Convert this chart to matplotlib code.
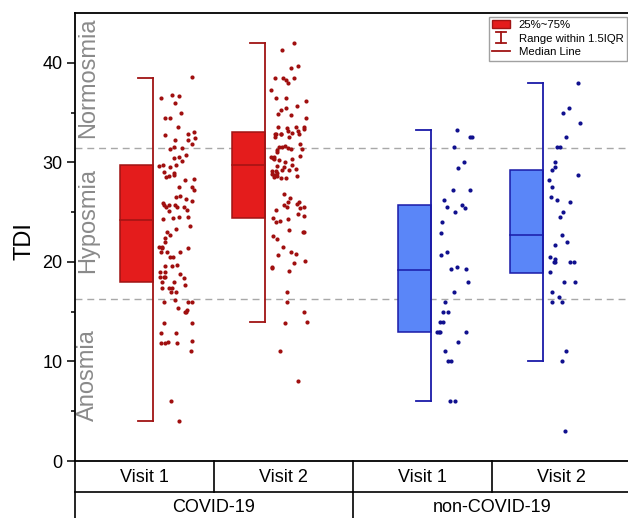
import numpy as np
import matplotlib
matplotlib.use('Agg')
import matplotlib.pyplot as plt
from matplotlib.patches import Patch
from matplotlib.lines import Line2D
from matplotlib.legend_handler import HandlerBase
from matplotlib.transforms import blended_transform_factory

plt.rcParams['font.family'] = ['Liberation Sans', 'DejaVu Sans']

# data
groups = ['COVID-19', 'non-COVID-19']
visits = ['Visit 1', 'Visit 2', 'Visit 1', 'Visit 2']

covid_v1 = [38.6, 36.5, 36.7, 36.8, 36.0, 35.0, 34.5, 34.5, 33.5, 33.0, 32.8, 32.7,
            32.4, 32.2, 32.2, 31.8, 31.5, 31.4, 31.3, 30.7, 30.5, 30.1, 30.4, 29.7,
            29.5, 29.7, 29.6, 29.0, 28.9, 28.3, 28.2, 28.6, 28.7, 28.5, 27.5, 27.2,
            27.5, 26.5, 26.3, 26.6, 26.1, 25.7, 25.5, 25.5, 25.2, 25.7, 25.5, 25.7,
            25.9, 25.1, 24.3, 24.5, 24.5, 24.4, 23.6, 23.3, 23.0, 22.7, 22.4, 22.0,
            21.5, 21.4, 21.5, 21.4, 21.0, 21.0, 21.0, 20.5, 20.5, 19.6, 19.7, 19.6,
            19.0, 19.0, 18.8, 18.5, 18.4, 18.5, 18.5, 17.7, 18.0, 18.0, 17.4, 17.4,
            17.4, 17.0, 17.0, 16.2, 16.0, 16.0, 16.0, 15.4, 15.0, 15.2, 15.0, 13.9,
            13.9, 12.9, 12.9, 12.0, 12.1, 11.9, 11.9, 11.9, 11.0, 6.0, 4.0]
covid_v2 = [42.0, 41.3, 39.7, 39.5, 38.5, 38.3, 38.5, 38.5, 38.0, 37.3, 36.5, 36.5,
            36.2, 35.7, 35.3, 35.5, 34.9, 34.8, 34.5, 33.5, 33.1, 33.1, 32.9, 33.3,
            33.4, 33.5, 33.5, 32.8, 32.8, 32.5, 32.8, 32.8, 32.8, 32.5, 31.8, 31.3,
            31.6, 31.3, 31.4, 31.5, 31.5, 31.2, 31.0, 30.5, 30.6, 30.5, 30.3, 30.4,
            30.3, 30.2, 30.0, 29.2, 29.5, 29.2, 28.9, 29.1, 29.6, 29.7, 29.1, 29.3,
            28.6, 28.8, 28.6, 28.4, 28.5, 28.4, 28.7, 26.8, 26.0, 25.7, 25.5, 25.5,
            25.4, 25.2, 26.4, 25.8, 26.0, 24.8, 24.6, 24.0, 24.4, 24.3, 24.1, 23.0,
            22.6, 22.3, 23.2, 23.0, 21.5, 21.0, 20.8, 20.1, 20.7, 19.9, 19.5, 19.4,
            19.1, 17.0, 16.0, 15.0, 13.9, 14.0, 11.0, 8.0]
noncovid_v1 = [33.2, 32.5, 32.5, 31.5, 30.0, 29.4, 27.2, 27.2, 26.2, 25.7, 25.4, 25.5,
               25.0, 24.0, 22.9, 21.0, 20.7, 19.3, 19.5, 19.3, 18.0, 17.0, 16.0, 15.0,
               15.0, 14.0, 14.0, 13.0, 13.0, 13.0, 13.0, 12.0, 11.0, 10.0, 10.0, 6.0, 6.0]
noncovid_v2 = [38.0, 35.5, 35.0, 34.0, 32.5, 31.5, 31.5, 30.0, 29.5, 29.2, 28.7, 28.2,
               27.5, 26.5, 26.0, 26.2, 25.0, 24.5, 22.7, 22.0, 21.7, 20.5, 20.3, 20.0,
               20.0, 20.0, 20.0, 19.0, 18.0, 18.0, 17.0, 16.5, 16.0, 16.0, 11.0, 10.0, 3.0]

# box statistics as drawn
q1 = [18.0, 24.4, 13.0, 18.9]
median = [24.2, 29.75, 19.2, 22.7]
q3 = [29.75, 33.0, 25.7, 29.25]
whisk_lo = [4.0, 14.0, 6.0, 10.0]
whisk_hi = [38.5, 42.0, 33.2, 38.0]

thresholds = [16.3, 31.4]
zones = ['Normosmia', 'Hyposmia', 'Anosmia']
zone_y = [38.5, 24.2, 8.6]

# styling
face = ['#e41c1c', '#e41c1c', '#5a86f8', '#5a86f8']
edge = ['#a01414', '#a01414', '#1a1aa8', '#1a1aa8']
dot = ['#a00f0f', '#a00f0f', '#10108e', '#10108e']
pos = [0.561, 1.367, 2.561, 3.367]
box_w = 0.237
cap_w = 0.108

fig = plt.figure(figsize=(6.28, 5.18), dpi=100)
ax = fig.add_axes([75 / 628, 57 / 518, 556 / 628, 448 / 518])

series = [covid_v1, covid_v2, noncovid_v1, noncovid_v2]
for i, vals in enumerate(series):
    p = pos[i]
    ax.bar(p - box_w, q3[i] - q1[i], bottom=q1[i], width=box_w, align='edge',
           facecolor=face[i], edgecolor=edge[i], linewidth=1.1, zorder=2)
    ax.plot([p - box_w, p], [median[i], median[i]], color=edge[i], lw=1.1, zorder=3)
    ax.plot([p, p], [whisk_lo[i], whisk_hi[i]], color=edge[i], lw=1.3, zorder=3)
    ax.plot([p - cap_w, p], [whisk_lo[i]] * 2, color=edge[i], lw=1.3, zorder=3)
    ax.plot([p - cap_w, p], [whisk_hi[i]] * 2, color=edge[i], lw=1.3, zorder=3)
    # deterministic jitter (hash of the index)
    idx = np.arange(len(vals)) + 1 + 17 * i
    frac = (np.sin(idx * 12.9898) * 43758.5453) % 1.0
    xs = p + 0.04 + frac * 0.26
    ax.scatter(xs, vals, s=9, color=dot[i], linewidths=0, zorder=4)

for t in thresholds:
    ax.axhline(t, color='#a8a8a8', lw=1.0, ls=(0, (5, 3.5)), zorder=1)

trans = blended_transform_factory(ax.transAxes, ax.transData)
for name, yy in zip(zones, zone_y):
    ax.text(0.0234, yy, name, rotation=90, ha='center', va='center',
            fontsize=17, color='#8a8a8a', transform=trans, zorder=1)

ax.set_xlim(0, 4)
ax.set_ylim(0, 45)
ax.set_yticks([0, 10, 20, 30, 40])
ax.set_yticks([5, 15, 25, 35], minor=True)
ax.set_xticks([])
ax.tick_params(axis='y', which='major', direction='out', length=6, width=1.1,
               labelsize=13, pad=3)
ax.tick_params(axis='y', which='minor', direction='out', length=3, width=1.1)
for s in ax.spines.values():
    s.set_linewidth(1.3)
ax.set_ylabel('TDI', fontsize=17)
ax.yaxis.set_label_coords(-0.071, 0.49)

# category table under the axes
row = -0.0692
kw = dict(color='black', lw=1.2, transform=ax.transAxes, clip_on=False)
ax.plot([0, 1.02], [row, row], **kw)
ax.plot([0, 0], [0, -0.2], **kw)
for xv in [0.25, 0.5, 0.75]:
    ax.plot([xv, xv], [0, row], **kw)
ax.plot([0.5, 0.5], [row, -0.2], **kw)
for k, lab in enumerate(visits):
    ax.text(0.125 + 0.25 * k, -0.037, lab, ha='center', va='center', fontsize=13,
            transform=ax.transAxes)
for k, lab in enumerate(groups):
    ax.text(0.25 + 0.5 * k, -0.103, lab, ha='center', va='center', fontsize=13,
            transform=ax.transAxes)


class WhiskerHandler(HandlerBase):
    def create_artists(self, legend, orig_handle, xdescent, ydescent, width,
                       height, fontsize, trans):
        cx = width / 2 - xdescent
        top = height - ydescent + 1
        bot = -ydescent - 1
        c = orig_handle.get_color()
        arts = [Line2D([cx, cx], [bot, top]),
                Line2D([cx - 3.5, cx + 3.5], [top, top]),
                Line2D([cx - 3.5, cx + 3.5], [bot, bot])]
        for a in arts:
            a.set_color(c)
            a.set_linewidth(1.3)
            a.set_transform(trans)
        return arts


h_box = Patch(facecolor=face[0], edgecolor=edge[0], linewidth=1.0)
h_whisk = Line2D([], [], color=edge[0])
h_med = Line2D([], [], color=edge[0], lw=1.3)
leg = fig.legend([h_box, h_whisk, h_med],
                 ['25%~75%', 'Range within 1.5IQR', 'Median Line'],
                 handler_map={h_whisk: WhiskerHandler()},
                 loc='upper left', bbox_to_anchor=(489 / 628, 1 - 17 / 518),
                 fontsize=8.2, frameon=True, fancybox=False, borderpad=0.3,
                 labelspacing=0.3, handlelength=1.5, handletextpad=0.8,
                 borderaxespad=0)
leg.get_frame().set_edgecolor('#8a8a8a')
leg.get_frame().set_linewidth(1.0)

fig.savefig('out.png', dpi=100)
